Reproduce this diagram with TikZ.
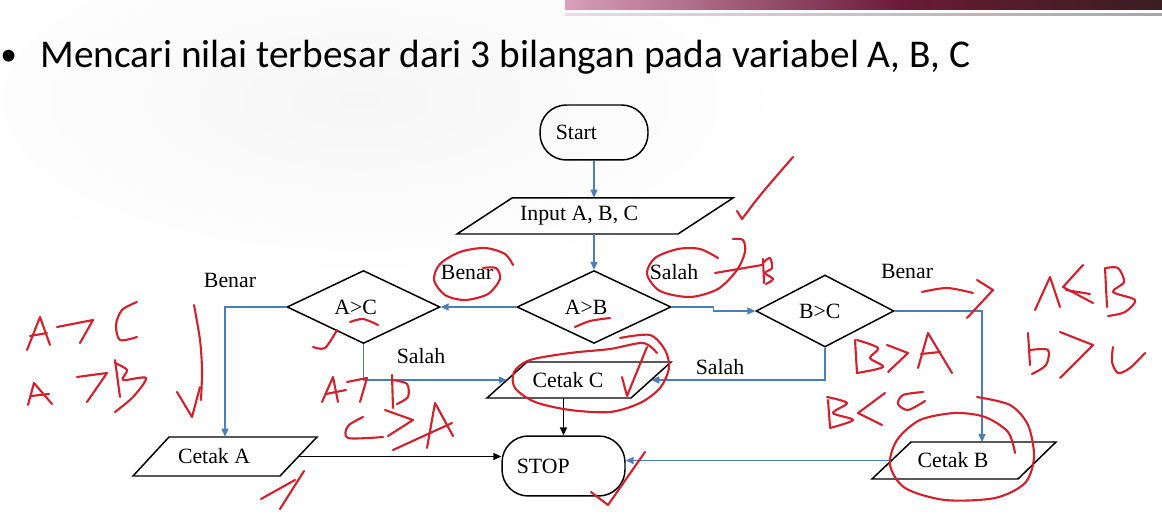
\documentclass[tikz,border=0pt]{standalone}
\usepackage{fontspec}
\setmainfont{Liberation Serif}
\newfontfamily\titlefont{Carlito}
\usetikzlibrary{arrows.meta,shapes.geometric}
\definecolor{flowblue}{HTML}{4A7EBB}
\definecolor{inkred}{HTML}{D2202C}
\definecolor{bandpink}{HTML}{D8A0BA}
\definecolor{bandmaroon}{HTML}{6A1A36}
\definecolor{banddark}{HTML}{3A1E20}

\begin{document}
\begin{tikzpicture}[x=0.02cm,y=-0.02cm,
  font=\fontsize{12.4}{14}\selectfont,
  outline/.style={draw=black,line width=0.85pt},
  term/.style={outline,rounded corners=15pt,inner sep=0pt},
  decision/.style={outline,diamond,inner sep=0pt},
  io/.style={inner sep=0pt},
  flow/.style={draw=flowblue,line width=0.75pt,-{Triangle[length=4.5pt,width=4pt]}},
  blackflow/.style={draw=black,line width=0.75pt,-{Triangle[length=4.5pt,width=4pt]}},
  lbl/.style={inner sep=0pt},
  ink/.style={draw=inkred,line width=1.2pt,line cap=round,line join=round}]

\useasboundingbox (0,0) rectangle (1162,526);
\fill[white] (0,0) rectangle (1162,526);
\shade[inner color=black!3.5,outer color=white] (360,100) ellipse [x radius=430, y radius=180];

% slide header band
\shade[left color=bandpink,right color=bandmaroon] (565,0) rectangle (901,10);
\shade[left color=bandmaroon,right color=banddark] (900,0) rectangle (1162,10);
\shade[left color=bandpink!40,right color=black!35] (565,13.5) rectangle (1162,15.5);

% heading
\node[anchor=base west,inner sep=0pt,font=\titlefont\fontsize{19}{22}\selectfont] (bullet) at (0,66) {•};
\node[anchor=base west,inner sep=0pt,font=\titlefont\fontsize{22.4}{26}\selectfont] (title) at (40,68)
  {Mencari nilai terbesar dari 3 bilangan pada variabel A, B, C};

% terminals
\node[term,minimum width=2.16cm,minimum height=1.1cm] (start) at (594,132.5) {Start\kern20pt};
\node[term,minimum width=2.46cm,minimum height=1.2cm] (stop) at (563.5,466) {STOP\kern23pt};

% input / output parallelograms
\draw[outline] (457,234) -- (512,198) -- (733,198) -- (678,234) -- cycle;
\node[io,minimum width=4.42cm,minimum height=0.72cm] (input) at (595,216) {Input A, B, C\kern18pt};
\draw[outline] (487,398) -- (527,362) -- (671,362) -- (631,398) -- cycle;
\node[io,minimum width=2.88cm,minimum height=0.72cm] (cc) at (579,380) {Cetak C\kern12.5pt};
\draw[outline] (133,476) -- (169,437) -- (317,437) -- (280,476) -- cycle;
\node[io,minimum width=2.96cm,minimum height=0.78cm] (ca) at (225,456.5) {Cetak A\kern12.5pt};
\draw[outline] (872,479) -- (911,442) -- (1056,442) -- (1018,479) -- cycle;
\node[io,minimum width=2.92cm,minimum height=0.74cm] (cb) at (964,460.5) {Cetak B\kern12.5pt};

% decisions
\node[decision,minimum width=3.08cm,minimum height=1.44cm] (ab) at (594,307) {A>B\kern9pt};
\node[decision,minimum width=3.06cm,minimum height=1.44cm] (ac) at (363.5,307) {A>C\kern9pt};
\node[decision,minimum width=2.76cm,minimum height=1.44cm] (bc) at (825,311) {B>C\kern6pt};

% branch labels
\node[lbl] (lacT) at (230,280) {Benar};
\node[lbl] (labT) at (467,272) {Benar};
\node[lbl] (lacF) at (421,356) {Salah};
\node[lbl] (labF) at (674,272) {Salah};
\node[lbl] (lbcT) at (907,271) {Benar};
\node[lbl] (lbcF) at (720,367) {Salah};

% connectors
\coordinate (cbin) at (982,442);
\draw[flow] (start.south) -- (start.south |- input.north);
\draw[flow] (ab.north |- input.south) -- (ab.north);
\draw[flow] (ab.west) -- (ac.east);
\draw[flow] (ab.east) -- ++(42,0) |- (bc.west);
\draw[flow] (ac.west) -| (ca.north);
\draw[flow] (ac.south) |- (cc.west);
\draw[flow] (bc.south) |- (cc.east);
\draw[flow] (bc.east) -| (cbin);
\draw[flow] (cb.west) -- (cb.west -| stop.east);
\draw[blackflow] (ca.east) -- (ca.east -| stop.west);
\draw[blackflow] (cc.south -| stop.north) -- (stop.north);

% pen annotations
\draw[ink] (737,211) -- (742,219) .. controls (760,195) .. (793,157);
\draw[ink] plot[smooth] coordinates {(718,258) (700,249) (678,249) (655,258) (647,274) (660,291) (690,297) (718,289) (737,270) (745,252) (743,240) (733,239)};
\draw[ink] (715,273) -- (762,265);
\draw[ink] (763,259) -- (764,283);
\draw[ink] plot[smooth] coordinates {(764,262) (770,258) (772,268) (765,273) (773,279) (766,284)};
\draw[ink] plot[smooth] coordinates {(513,265) (505,254) (485,248) (460,252) (440,264) (434,280) (445,295) (465,300) (488,294) (500,279) (496,268) (483,268)};
\draw[ink] plot[smooth] coordinates {(350,322) (363,319) (378,325)};
\draw[ink] plot[smooth] coordinates {(313,347) (325,348) (337,330)};
\draw[ink] plot[smooth] coordinates {(575,327) (590,321) (610,318)};
% left margin notes
\draw[ink] plot[smooth] coordinates {(194,305) (200,340) (202,370) (201,400)};
\draw[ink] (177,392) -- (192,417) -- (200,387);
\draw[ink] (27,350) -- (40,317) -- (50,345);
\draw[ink] (30,336) -- (47,333);
\draw[ink] (57,327) -- (93,320) -- (80,343);
\draw[ink] plot[smooth] coordinates {(137,302) (122,310) (116,325) (120,340) (137,337)};
\draw[ink] (28,405) -- (34,383) -- (52,404);
\draw[ink] (31,396) -- (49,394);
\draw[ink] (77,377) -- (107,373) -- (87,402);
\draw[ink] (115,360) -- (120,397);
\draw[ink] plot[smooth] coordinates {(115,363) (127,370) (123,380) (146,378) (133,397) (115,412)};
% notes under A>C
\draw[ink] (322,402) -- (333,377) -- (338,402);
\draw[ink] (326,394) -- (346,390);
\draw[ink] (347,382) -- (367,378) -- (360,402);
\draw[ink] (392,375) -- (393,408);
\draw[ink] plot[smooth] coordinates {(393,380) (407,384) (408,397) (397,404)};
\draw[ink] plot[smooth] coordinates {(363,417) (348,426) (348,438) (383,437)};
\draw[ink] (385,410) -- (413,420) -- (388,436);
\draw[ink] (427,448) -- (435,403) -- (453,436);
\draw[ink] (393,450) -- (452,423);
% notes right of B>C
\draw[ink] plot[smooth] coordinates {(922,292) (947,288) (973,293)};
\draw[ink] (977,280) -- (993,290) -- (967,318);
\draw[ink] (1035,310) -- (1050,277) -- (1060,307);
\draw[ink] (1083,265) -- (1063,287) -- (1093,303);
\draw[ink] (1066,290) -- (1090,294);
\draw[ink] (1105,268) -- (1107,307);
\draw[ink] plot[smooth] coordinates {(1106,268) (1118,268) (1124,282) (1113,292) (1135,300) (1125,312) (1108,316)};
\draw[ink] (1028,333) -- (1030,365);
\draw[ink] plot[smooth] coordinates {(1030,350) (1048,350) (1046,365) (1032,374)};
\draw[ink] (1060,332) -- (1093,345) -- (1060,378);
\draw[ink] plot[smooth] coordinates {(1113,347) (1112,362) (1118,373) (1130,368) (1145,353)};
% notes under B>C
\draw[ink] (855,340) -- (857,373);
\draw[ink] plot[smooth] coordinates {(857,340) (878,348) (870,358) (883,367) (857,373)};
\draw[ink] (887,345) -- (908,353) -- (888,372);
\draw[ink] (918,368) -- (928,333) -- (952,373);
\draw[ink] (921,354) -- (940,352);
\draw[ink] (828,400) -- (830,427);
\draw[ink] plot[smooth] coordinates {(827,397) (847,403) (833,413) (853,420) (830,428)};
\draw[ink] (885,393) -- (858,413) -- (882,425);
\draw[ink] plot[smooth] coordinates {(923,392) (903,395) (898,404) (908,410) (925,401)};
% rings and ticks around outputs
\draw[ink] plot[smooth] coordinates {(620,338) (650,335) (665,350) (669,368) (660,388) (640,403) (610,412) (570,410) (535,402) (515,388) (514,372) (530,360) (570,353) (610,349) (643,343) (657,353)};
\draw[ink] (622,377) -- (627,396) -- (647,347);
\draw[ink] (591,492) -- (608,505) -- (645,452);
\draw[ink] (261,499) -- (295,480);
\draw[ink] (280,509) -- (304,471);
\draw[ink] plot[smooth] coordinates {(1015,453) (1008,432) (985,417) (955,413) (920,420) (897,440) (890,465) (905,488) (945,500) (995,498) (1025,483) (1034,457) (1028,425) (1010,405) (977,397)};
\end{tikzpicture}
\end{document}
